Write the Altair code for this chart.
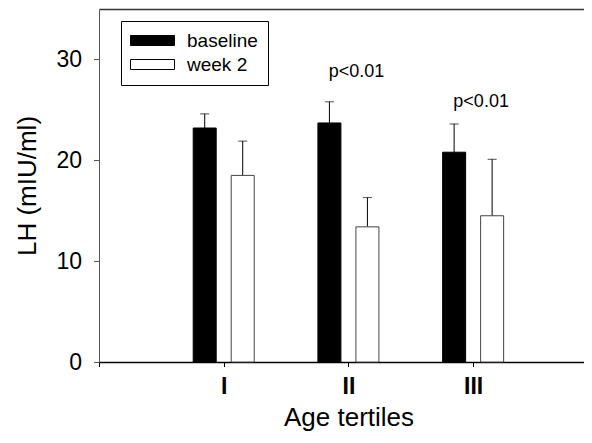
import altair as alt
import pandas as pd

# ---- data ----
tiers = [1, 2, 3]
tier_labels = ["I", "II", "III"]
groups = ["baseline", "week 2"]
baseline_mean = [23.2, 23.7, 20.8]
baseline_err = [1.4, 2.1, 2.8]
week2_mean = [18.5, 13.4, 14.5]
week2_err = [3.4, 2.9, 5.6]
p_tiers = [2, 3]
p_labels = ["p<0.01", "p<0.01"]
p_y = [28.8, 25.8]
y_ticks = [0, 10, 20, 30]
x_ticks = [0, 1, 2, 3]

rows = []
for t, m, e in zip(tiers, baseline_mean, baseline_err):
    rows.append({"tier": t, "group": "baseline", "mean": m, "top": m + e})
for t, m, e in zip(tiers, week2_mean, week2_err):
    rows.append({"tier": t, "group": "week 2", "mean": m, "top": m + e})
df = pd.DataFrame(rows)
ann = pd.DataFrame({"tier": p_tiers, "y": p_y, "label": p_labels})

FONT = "Liberation Sans"
W, H = 485, 353
OFF = 19
BAR_W = 23

xscale = alt.Scale(domain=[0, 3.889], nice=False, zero=False, padding=0)
yscale = alt.Scale(domain=[0, 35], nice=False, padding=0)
fill_scale = alt.Scale(domain=groups, range=["black", "white"])

label_expr = " : ".join(
    [f"datum.value == {t} ? '{l}'" for t, l in zip(tiers, tier_labels)]
) + " : ''"

x_axis = alt.Axis(
    values=x_ticks, labelExpr=label_expr, tickSize=4.5, labelPadding=9,
    labelFontSize=23, labelFontWeight="bold", domainColor="black",
    domainWidth=1.5, tickColor="black", titleFontSize=26, titlePadding=6,
    titleX=249.5,
)
x_top_axis = alt.Axis(
    orient="top", labels=False, ticks=False, title=None,
    domainColor="#333333", domainWidth=1.5,
)
y_axis = alt.Axis(
    values=y_ticks, tickSize=5.5, labelPadding=12, labelFontSize=23,
    domainColor="#555555", domainWidth=1, tickColor="#555555",
    titleFontSize=26, titlePadding=15,
)

legend = alt.Legend(
    title=None, orient="none", legendX=22, legendY=12,
    symbolType="M-2.0,-1H6.8V1H-2.0Z", symbolSize=100,
    symbolStrokeColor="black", symbolStrokeWidth=1,
    labelFontSize=19, labelFont=FONT, labelColor="black", labelOffset=37,
    padding=10, strokeColor="black", rowPadding=4,
)

x_enc = alt.X("tier:Q", scale=xscale, axis=x_axis, title="Age tertiles")
y_enc = alt.Y("mean:Q", scale=yscale, axis=y_axis, title="LH (mIU/ml)")


def group_layers(name, off, stroke):
    base = alt.Chart(df).transform_filter(alt.datum.group == name)
    bars = base.mark_bar(
        width=BAR_W, xOffset=off, stroke=stroke, strokeWidth=1,
        orient="vertical",
    ).encode(
        x=x_enc, y=y_enc, y2=alt.datum(0),
        fill=alt.Fill("group:N", scale=fill_scale, legend=legend),
    )
    rule = base.mark_rule(xOffset=off, color="black", strokeWidth=1).encode(
        x=x_enc, y=y_enc, y2="top:Q"
    )
    cap = base.mark_tick(
        orient="horizontal", size=9, thickness=1, xOffset=off, color="black"
    ).encode(
        x=x_enc,
        y=alt.Y("top:Q", scale=yscale, axis=y_axis, title="LH (mIU/ml)"),
    )
    return [rule, cap, bars]


bars_layer = alt.layer(
    *group_layers("baseline", -OFF, "black"),
    *group_layers("week 2", OFF, "#444444"),
)

texts = alt.Chart(ann).mark_text(
    dx=8, fontSize=18, font=FONT, baseline="middle", color="black"
).encode(
    x=alt.X("tier:Q", scale=xscale, axis=x_top_axis),
    y=alt.Y("y:Q", scale=yscale, axis=y_axis, title="LH (mIU/ml)"),
    text="label:N",
)

chart = alt.layer(bars_layer, texts).resolve_scale(
    x="independent"
).properties(
    width=W, height=H,
    padding={"left": 91, "top": 1, "right": 0, "bottom": 73},
    autosize=alt.AutoSizeParams(type="none"),
).configure_view(
    stroke="transparent"
).configure_axis(
    labelFont=FONT, titleFont=FONT, labelColor="black", titleColor="black",
    grid=False, titleFontWeight="normal",
)

chart.save("out.html", embed_options={"renderer": "svg", "actions": False})
